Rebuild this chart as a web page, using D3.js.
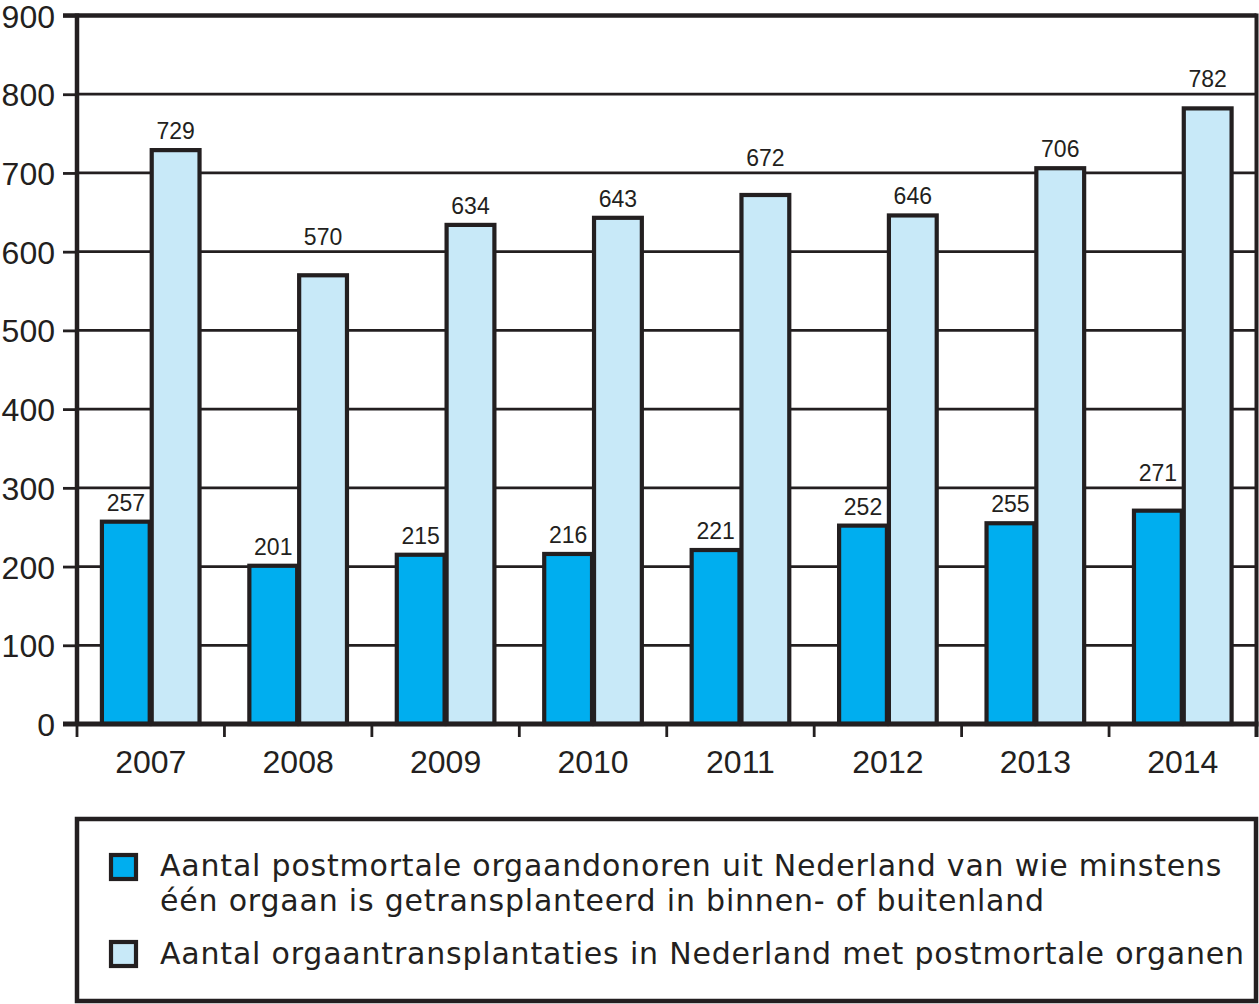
<!DOCTYPE html>
<html>
<head>
<meta charset="utf-8">
<script src="https://cdn.jsdelivr.net/npm/d3@7"></script>
<style>
  html, body { margin: 0; padding: 0; background: #fff; }
  svg { display: block; font-family: "Liberation Sans", Arial, sans-serif; }
</style>
</head>
<body>
<svg id="chart" width="1259" height="1004"></svg>
<script>
const years = ["2007", "2008", "2009", "2010", "2011", "2012", "2013", "2014"];
const donors = [257, 201, 215, 216, 221, 252, 255, 271];
const transplants = [729, 570, 634, 643, 672, 646, 706, 782];
const yTicks = [0, 100, 200, 300, 400, 500, 600, 700, 800, 900];
const seriesNames = [
  "Aantal postmortale orgaandonoren uit Nederland van wie minstens|één orgaan is getransplanteerd in binnen- of buitenland",
  "Aantal orgaantransplantaties in Nederland met postmortale organen"
];
const seriesColors = ["#00AEEF", "#C8E9F8"];
const ink = "#231F20";

const svg = d3.select("#chart");
const pL = 77, pR = 1256.5, pT = 15.5, pB = 724;

const x0 = d3.scaleBand().domain(years).range([pL, pR]).paddingInner(0).paddingOuter(0);
const x1 = d3.scaleBand().domain([0, 1]).range([0, x0.bandwidth()]).paddingInner(0).paddingOuter(0.48);
const y = d3.scaleLinear().domain([0, 900]).range([pB, pT]);

// gridlines
svg.append("g").selectAll("line").data(yTicks.filter(d => d > 0 && d < 900)).join("line")
  .attr("x1", pL).attr("x2", pR)
  .attr("y1", d => y(d)).attr("y2", d => y(d))
  .attr("stroke", ink).attr("stroke-width", 2.8);

// y axis ticks + labels
const yAxis = d3.axisLeft(y).tickValues(yTicks).tickSize(14).tickPadding(8).tickFormat(d3.format("d"));
const gy = svg.append("g").attr("transform", `translate(${pL},0)`).call(yAxis);
gy.select(".domain").remove();
gy.selectAll(".tick line").attr("stroke", ink).attr("stroke-width", 2.8);
gy.selectAll(".tick text").attr("fill", ink).attr("font-size", 32).attr("font-family", "Liberation Sans, Arial, sans-serif").attr("x", -22).attr("dy", "0.36em");

// x axis ticks at band edges
const edges = years.map(d => x0(d)).concat([pR]);
svg.append("g").selectAll("line").data(edges).join("line")
  .attr("x1", d => d).attr("x2", d => d)
  .attr("y1", pB).attr("y2", pB + 13)
  .attr("stroke", ink).attr("stroke-width", 2.8);
svg.append("g").selectAll("text").data(years).join("text")
  .attr("x", d => x0(d) + x0.bandwidth() / 2)
  .attr("y", 773)
  .attr("text-anchor", "middle")
  .attr("font-size", 32).attr("fill", ink)
  .text(d => d);

// bars
const rows = years.map((yr, i) => ({ yr, vals: [donors[i], transplants[i]] }));
const bars = [];
rows.forEach(r => r.vals.forEach((v, s) => bars.push({ yr: r.yr, s, v })));

svg.append("g").selectAll("rect").data(bars).join("rect")
  .attr("x", d => x0(d.yr) + x1(d.s) + 1)
  .attr("width", x1.bandwidth() - 2)
  .attr("y", d => y(d.v))
  .attr("height", d => y(0) - y(d.v))
  .attr("fill", d => seriesColors[d.s])
  .attr("stroke", ink).attr("stroke-width", 4.2);

// value labels (placed above bar, lifted above a gridline if it would cross it)
const gridYs = yTicks.map(t => y(t));
function labelY(v) {
  let b = y(v) - 11;
  for (const g of gridYs) {
    if (g > b - 18 && g < b + 3) { b = g - 7; }
  }
  return b;
}
svg.append("g").selectAll("text").data(bars).join("text")
  .attr("x", d => x0(d.yr) + x1(d.s) + x1.bandwidth() / 2)
  .attr("y", d => labelY(d.v))
  .attr("text-anchor", "middle")
  .attr("font-size", 23).attr("fill", ink)
  .text(d => d.v);

// frame
svg.append("line").attr("x1", pL).attr("x2", pR).attr("y1", pT).attr("y2", pT).attr("stroke", ink).attr("stroke-width", 4.5);
svg.append("line").attr("x1", pL - 14).attr("x2", pL).attr("y1", pT).attr("y2", pT).attr("stroke", ink).attr("stroke-width", 4.5);
svg.append("line").attr("x1", pL).attr("x2", pL).attr("y1", pT - 2).attr("y2", pB + 2).attr("stroke", ink).attr("stroke-width", 4.5);
svg.append("line").attr("x1", pR).attr("x2", pR).attr("y1", pT - 2).attr("y2", pB + 13).attr("stroke", ink).attr("stroke-width", 4);
svg.append("line").attr("x1", pL - 14).attr("x2", pR + 2).attr("y1", pB).attr("y2", pB).attr("stroke", ink).attr("stroke-width", 5);

// legend
const lg = svg.append("g");
lg.append("rect").attr("x", 77).attr("y", 819).attr("width", 1179).attr("height", 182)
  .attr("fill", "none").attr("stroke", ink).attr("stroke-width", 4.5);
const legendRows = [
  { s: 0, sy: 855, lines: seriesNames[0].split("|"), base: [876, 911] },
  { s: 1, sy: 942, lines: seriesNames[1].split("|"), base: [964] }
];
const legendTexts = [];
legendRows.forEach(r => {
  lg.append("rect").attr("x", 111).attr("y", r.sy).attr("width", 25).attr("height", 24)
    .attr("fill", seriesColors[r.s]).attr("stroke", ink).attr("stroke-width", 4.2);
  r.lines.forEach((t, i) => {
    legendTexts.push(lg.append("text").attr("x", 160).attr("y", r.base[i])
      .attr("font-family", "DejaVu Sans, sans-serif")
      .attr("font-size", 30).attr("fill", ink).text(t));
  });
});
// widen tracking so the first line spans like the reference (~1062px)
const first = legendTexts[0];
const natural = first.node().getComputedTextLength();
const nChars = seriesNames[0].split("|")[0].length;
const ls = Math.max(0, (1062 - natural) / nChars);
legendTexts.forEach(t => t.attr("letter-spacing", ls.toFixed(2)));
</script>
</body>
</html>
